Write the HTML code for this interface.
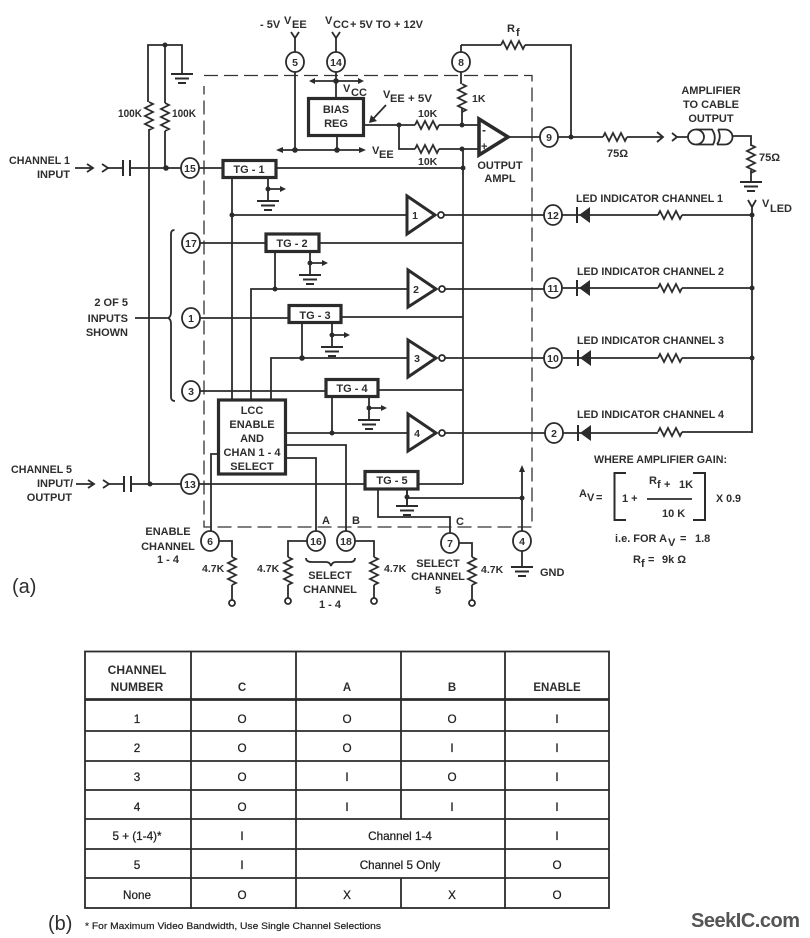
<!DOCTYPE html>
<html><head><meta charset="utf-8"><style>
html,body{margin:0;padding:0;background:#fff}
svg{display:block}
text{font-family:"Liberation Sans",sans-serif;font-weight:bold;font-size:11px;fill:#2e2e2e;stroke:none}
.c{text-anchor:middle}.r{text-anchor:end}
.s{font-size:10.5px}.n{font-size:10.5px;text-anchor:middle}
.m{font-size:11.7px;font-weight:normal;fill:#222;stroke:#222;stroke-width:.25px;text-anchor:middle}
.w{fill:#fff;stroke:#2b2b2b;stroke-width:1.8}
.l{fill:none;stroke:#2b2b2b;stroke-width:1.8}
.b{fill:#fff;stroke:#2b2b2b;stroke-width:3.2}
.k{fill:#2b2b2b;stroke:none}
</style></head><body>
<svg width="810" height="938" viewBox="0 0 810 938" xmlns="http://www.w3.org/2000/svg">
<defs>
<path id="rh" class="l" d="M0 0l2-4 4 8 4-8 4 8 4-8 4 8 2-4"/>
<path id="rv" class="l" d="M0 0l4 2-8 4 8 4-8 4 8 4-8 4 8 4-4 2"/>
<g id="gnd"><path class="l" style="stroke-width:2" d="M-11 0h22M-7 4.500h14M-4 9h8"/></g>
<g id="tgg"><path class="l" d="M0 0V23M0 11H13"/><circle class="k" cx="0" cy="11" r="2.500"/><path class="k" d="M12 8l6 3-6 3z"/><use href="#gnd" y="23"/></g>
</defs>

<!-- dashed package -->
<path fill="none" stroke="#333" stroke-width="1.3" stroke-dasharray="14 6" d="M204 75.500H532V527H204V86"/>

<!-- wires -->
<path class="l" d="
M148 102V45H182V74M165 45V103M165 131V168M149 129V484
M108 168H123M130 168H181M199 168H222M276 168H463
M232 178V400M232 215H406
M199 243H265M319 243H463M275 252V289M251 400V289H407
M199 318H288M341 317H463M302 323V358M271 400V358H407
M199 391H325M378 390H463M332 397V433M286 433H407
M199 484H364M418 484H463M108 484H124M131 484H181
M463 149V484
M295 38V52M295 72V150M336 38V52M336 72V98M337 136V150
M279 150H362M313 81H360
M364 125H415M439 125H479M399 125V149H415M439 149H479
M461 45V52M461 72V84M462 108V125
M461 45H501M525 45H571V137M510 137H540M558 137H603M627 137H662
M677 137H688M733 136H751V146M751 170V182
M752 207V433
M444 215H544M562 215H658M682 215H752
M445 289H544M562 288H658M682 288H752
M445 358H544M563 358H658M682 358H752
M445 433H545M563 433H658M682 432H752
M218 454H211V532M286 445H346V531M286 458H316V531
M378 490V517H450V533M407 490V506M407 498H522M522 470V531M522 551V567
M219 541H232V557M232 585V600M307 541H288V557M288 585V598M355 541H374V557M374 585V598M459 543H472V557M472 585V600
M135 318H167
"/>
<path class="l" style="stroke-width:1.8" d="M174.500 230Q171 230 171 234V312Q171 317 168 318Q171 319 171 324V397Q171 401 175 401"/>
<path class="l" d="M306 558Q306 562 312 562H326Q330 562 331 566Q332 562 336 562H350Q355 562 355 558"/>

<!-- arrows and forks -->
<path class="l" d="M75 168H92M87 164l6 4-6 4M102 164l6 4-6 4M76 484H93M88 480l6 4-6 4M103 480l6 4-6 4
M291 32l4 6 4-6M332 32l4 6 4-6M657 132l6 5-6 5M672 133l5 4-5 4M748 200l4 7 4-7"/>
<path class="k" d="M276 150l7-3v6zM366 150l-7-3v6zM309 81l6-3v6zM364 81l-6-3v6zM522 465l-3 7h6zM369 123l2-8 6 6z"/>
<path class="l" d="M386 105L372 120"/>

<!-- caps -->
<path class="l" style="stroke-width:2" d="M123 160V176M130 160V176M124 476V492M131 476V492"/>

<!-- resistors -->
<use href="#rv" x="149" y="102"/><use href="#rv" x="165" y="103"/>
<use href="#rh" x="415" y="125"/><use href="#rh" x="415" y="149"/>
<use href="#rv" x="462" y="84"/><use href="#rh" x="501" y="45"/>
<use href="#rh" x="603" y="137"/><use href="#rv" x="751" y="145"/>
<use href="#rh" x="658" y="215"/><use href="#rh" x="658" y="288"/><use href="#rh" x="658" y="358"/><use href="#rh" x="658" y="432"/>
<use href="#rv" x="232" y="557"/><use href="#rv" x="288" y="557"/><use href="#rv" x="374" y="557"/><use href="#rv" x="472" y="557"/>

<!-- grounds -->
<use href="#gnd" x="182" y="74"/><use href="#gnd" x="751" y="182"/><use href="#gnd" x="522" y="567"/>
<use href="#tgg" x="268" y="178"/><use href="#tgg" x="310" y="252"/><use href="#tgg" x="332" y="324"/><use href="#tgg" x="369" y="397"/>
<path class="l" d="M407 490V506"/><use href="#gnd" x="407" y="506"/>

<!-- nodes -->
<g class="k">
<circle cx="165" cy="45" r="2.500"/><circle cx="166" cy="168" r="2.800"/><circle cx="150" cy="484" r="2.500"/>
<circle cx="232" cy="215" r="2.500"/><circle cx="275" cy="289" r="2.500"/><circle cx="302" cy="358" r="2.800"/><circle cx="332" cy="433" r="2.500"/>
<circle cx="295" cy="150" r="2.800"/><circle cx="337" cy="150" r="2.800"/><circle cx="336" cy="81" r="2.800"/>
<circle cx="399" cy="125" r="2.500"/><circle cx="462" cy="125" r="2.500"/><circle cx="462" cy="149" r="2.500"/><circle cx="463" cy="168" r="2.500"/>
<circle cx="571" cy="137" r="2.500"/><circle cx="752" cy="215" r="2.500"/><circle cx="752" cy="288" r="2.500"/><circle cx="752" cy="358" r="2.500"/>
<circle cx="407" cy="497" r="2.500"/><circle cx="522" cy="498" r="2.500"/>
</g>

<!-- TG boxes -->
<rect class="b" x="223" y="160.500" width="53" height="17"/>
<rect class="b" x="266" y="234" width="53" height="17.500"/>
<rect class="b" x="289" y="305.500" width="52" height="17"/>
<rect class="b" x="326" y="379.500" width="52" height="17"/>
<rect class="b" x="365" y="471.500" width="53" height="17.500"/>
<rect class="b" x="308.500" y="98.500" width="55" height="37"/>
<rect class="b" x="218.500" y="400" width="67" height="74"/>
<text class="c" x="249" y="173">TG - 1</text><text class="c" x="292" y="247">TG - 2</text>
<text class="c" x="315" y="319">TG - 3</text><text class="c" x="352" y="392">TG - 4</text><text class="c" x="392" y="484">TG - 5</text>
<text class="c" x="336" y="113">BIAS</text><text class="c" x="336" y="127">REG</text>
<text class="c" x="252" y="414">LCC</text><text class="c" x="252" y="428">ENABLE</text><text class="c" x="252" y="442">AND</text><text class="c" x="252" y="456" textLength="57" lengthAdjust="spacingAndGlyphs">CHAN 1 - 4</text><text class="c" x="252" y="470">SELECT</text>

<!-- op amp & inverters -->
<path fill="#fff" stroke="#2b2b2b" stroke-width="3.6" stroke-linejoin="miter" d="M479 119V155L508 137Z"/>
<text x="482" y="134" style="font-size:12px">-</text><text x="481" y="150" style="font-size:11px">+</text>
<g fill="#fff" stroke="#2b2b2b" stroke-width="3">
<path d="M407 196V234L435 215Z"/><path d="M408 270V307L436 289Z"/><path d="M408 340V377L436 358Z"/><path d="M408 414V451L436 433Z"/>
</g>
<g class="w"><circle cx="441" cy="215" r="3"/><circle cx="442" cy="289" r="3"/><circle cx="442" cy="358" r="3"/><circle cx="442" cy="433" r="3"/></g>
<text class="n" x="415" y="219">1</text><text class="n" x="416" y="293">2</text><text class="n" x="417" y="362">3</text><text class="n" x="417" y="437">4</text>

<!-- diodes -->
<g class="k"><path d="M590 207V223L579 215Z"/><path d="M590 280V296L579 288Z"/><path d="M591 350V366L580 358Z"/><path d="M591 425V441L580 433Z"/></g>
<path class="l" style="stroke-width:2" d="M577 207V223M577 280V296M578 350V366M578 425V441"/>

<!-- cable -->
<path class="l" d="M696 129.500H712Q717 137 713 144.500H696M718 129.500Q722 137 717 144.500M718 129.500H725A7.500 7.500 0 0 1 725 144.500H717"/>
<ellipse class="l" cx="696" cy="137" rx="8" ry="7.500"/>

<!-- pins -->
<g class="w">
<ellipse cx="295" cy="62" rx="9" ry="10"/><ellipse cx="336" cy="62" rx="9" ry="10"/><ellipse cx="461" cy="62" rx="9" ry="10"/>
<ellipse cx="190" cy="168" rx="9" ry="10"/><ellipse cx="191" cy="243" rx="9" ry="10"/><ellipse cx="191" cy="318" rx="9" ry="10"/><ellipse cx="191" cy="391" rx="9" ry="10"/><ellipse cx="190" cy="484" rx="9" ry="10"/>
<ellipse cx="549" cy="137" rx="9" ry="10"/><ellipse cx="553" cy="215" rx="9" ry="10"/><ellipse cx="553" cy="288" rx="9" ry="10"/><ellipse cx="553" cy="358" rx="9" ry="10"/><ellipse cx="554" cy="433" rx="9" ry="10"/>
<ellipse cx="210" cy="541" rx="9" ry="10"/><ellipse cx="316" cy="541" rx="9" ry="10"/><ellipse cx="346" cy="541" rx="9" ry="10"/><ellipse cx="450" cy="543" rx="9" ry="10"/><ellipse cx="522" cy="541" rx="9" ry="10"/>
<circle cx="232" cy="603" r="3"/><circle cx="288" cy="601" r="3"/><circle cx="374" cy="601" r="3"/><circle cx="472" cy="603" r="3"/>
</g>
<g>
<text class="n" x="295" y="66">5</text><text class="n" x="336" y="66">14</text><text class="n" x="461" y="66">8</text>
<text class="n" x="190" y="172">15</text><text class="n" x="191" y="247">17</text><text class="n" x="191" y="322">1</text><text class="n" x="191" y="395">3</text><text class="n" x="190" y="488">13</text>
<text class="n" x="549" y="141">9</text><text class="n" x="553" y="219">12</text><text class="n" x="553" y="292">11</text><text class="n" x="553" y="362">10</text><text class="n" x="554" y="437">2</text>
<text class="n" x="210" y="545">6</text><text class="n" x="316" y="545">16</text><text class="n" x="346" y="545">18</text><text class="n" x="450" y="547">7</text><text class="n" x="522" y="545">4</text>
</g>

<!-- labels -->
<text x="260" y="28">- 5V</text><text x="284" y="24">V</text><text x="292" y="28">EE</text>
<text x="325" y="24">V</text><text x="333" y="28">CC</text><text x="350" y="28" textLength="73" lengthAdjust="spacingAndGlyphs">+ 5V TO + 12V</text>
<text x="507" y="32">R</text><text x="516" y="36">f</text>
<text x="118" y="117" textLength="24" lengthAdjust="spacingAndGlyphs">100K</text><text x="172" y="117" textLength="24" lengthAdjust="spacingAndGlyphs">100K</text>
<text x="343" y="92">V</text><text x="351" y="96">CC</text><text x="372" y="154">V</text><text x="379" y="158">EE</text>
<text x="383" y="98">V</text><text x="390" y="102">EE</text><text x="408" y="102" textLength="24" lengthAdjust="spacingAndGlyphs">+ 5V</text>
<text x="418" y="117" class="s">10K</text><text x="418" y="165" class="s">10K</text><text x="472" y="102" class="s">1K</text>
<text class="c" x="500" y="169">OUTPUT</text><text class="c" x="500" y="182">AMPL</text>
<text class="c" x="711" y="94">AMPLIFIER</text><text class="c" x="711" y="108">TO CABLE</text><text class="c" x="711" y="122">OUTPUT</text>
<text x="607" y="157">75Ω</text><text x="759" y="161">75Ω</text>
<text x="762" y="207">V</text><text x="770" y="212">LED</text>
<text class="r" x="70" y="164" textLength="61" lengthAdjust="spacingAndGlyphs">CHANNEL 1</text><text class="r" x="70" y="178">INPUT</text>
<text class="r" x="72" y="473" textLength="61" lengthAdjust="spacingAndGlyphs">CHANNEL 5</text><text class="r" x="73" y="487">INPUT/</text><text class="r" x="72" y="501">OUTPUT</text>
<text class="r" x="128" y="306">2 OF 5</text><text class="r" x="128" y="322">INPUTS</text><text class="r" x="128" y="336">SHOWN</text>
<text x="576" y="202" textLength="147" lengthAdjust="spacingAndGlyphs">LED INDICATOR CHANNEL 1</text>
<text x="577" y="275" textLength="147" lengthAdjust="spacingAndGlyphs">LED INDICATOR CHANNEL 2</text>
<text x="577" y="344" textLength="147" lengthAdjust="spacingAndGlyphs">LED INDICATOR CHANNEL 3</text>
<text x="577" y="418" textLength="147" lengthAdjust="spacingAndGlyphs">LED INDICATOR CHANNEL 4</text>
<text class="c" x="168" y="535">ENABLE</text><text class="c" x="168" y="550">CHANNEL</text><text class="c" x="168" y="563">1 - 4</text>
<text x="202" y="572" class="s">4.7K</text><text x="257" y="572" class="s">4.7K</text><text x="384" y="572" class="s">4.7K</text><text x="481" y="573" class="s">4.7K</text>
<text x="322" y="524">A</text><text x="352" y="524">B</text><text x="456" y="525">C</text>
<text class="c" x="330" y="579">SELECT</text><text class="c" x="330" y="593">CHANNEL</text><text class="c" x="330" y="608">1 - 4</text>
<text class="c" x="438" y="567">SELECT</text><text class="c" x="438" y="580">CHANNEL</text><text class="c" x="438" y="594">5</text>
<text x="540" y="576">GND</text>
<text x="12" y="593" style="font-size:20px;font-weight:normal">(a)</text>

<!-- formula -->
<text x="594" y="463" textLength="133" lengthAdjust="spacingAndGlyphs">WHERE AMPLIFIER GAIN:</text>
<text x="579" y="497">A</text><text x="587" y="501">V</text><text x="596" y="501">=</text>
<path class="l" style="stroke-width:2" d="M626 473H614.500V520H626M693 473H705V520H693"/>
<text x="622" y="502">1 +</text><path class="l" d="M647 499H692"/>
<text x="649" y="484">R</text><text x="657" y="488">f</text><text x="664" y="488">+</text><text x="679" y="488">1K</text>
<text x="662" y="517">10 K</text><text x="716" y="502" textLength="25" lengthAdjust="spacingAndGlyphs">X 0.9</text>
<text x="615" y="542" textLength="52" lengthAdjust="spacingAndGlyphs">i.e. FOR A</text><text x="668" y="546">V</text><text x="680" y="542">=</text><text x="695" y="542">1.8</text>
<text x="633" y="563">R</text><text x="641" y="567">f</text><text x="648" y="563">=</text><text x="662" y="563">9k Ω</text>

<!-- table -->
<rect x="85" y="651.500" width="524" height="256.500" fill="none" stroke="#2b2b2b" stroke-width="1.8"/>
<path class="l" d="M85 731H609M85 761H609M85 790H609M85 819H609M85 849H609M85 878H609M191 651V909M296 651V909M505 651V909M401 651V819M401 878V908"/>
<path class="l" style="stroke-width:2.800" d="M85 699.500H609"/>
<text class="c" x="137" y="674" style="font-size:12px">CHANNEL</text><text class="c" x="137" y="691" style="font-size:12px">NUMBER</text>
<text class="c" x="242" y="691" style="font-size:11.500px">C</text><text class="c" x="347" y="691" style="font-size:11.500px">A</text><text class="c" x="452" y="691" style="font-size:11.500px">B</text><text class="c" x="557" y="691" style="font-size:11.500px">ENABLE</text>
<g>
<text class="m" x="137" y="723">1</text><text class="m" x="242" y="723">O</text><text class="m" x="347" y="723">O</text><text class="m" x="452" y="723">O</text><text class="m" x="557" y="723">I</text>
<text class="m" x="137" y="752">2</text><text class="m" x="242" y="752">O</text><text class="m" x="347" y="752">O</text><text class="m" x="452" y="752">I</text><text class="m" x="557" y="752">I</text>
<text class="m" x="137" y="781">3</text><text class="m" x="242" y="781">O</text><text class="m" x="347" y="781">I</text><text class="m" x="452" y="781">O</text><text class="m" x="557" y="781">I</text>
<text class="m" x="137" y="811">4</text><text class="m" x="242" y="811">O</text><text class="m" x="347" y="811">I</text><text class="m" x="452" y="811">I</text><text class="m" x="557" y="811">I</text>
<text class="m" x="137" y="840">5 + (1-4)*</text><text class="m" x="242" y="840">I</text><text class="m" x="400" y="840">Channel 1-4</text><text class="m" x="557" y="840">I</text>
<text class="m" x="137" y="869">5</text><text class="m" x="242" y="869">I</text><text class="m" x="400" y="869">Channel 5 Only</text><text class="m" x="557" y="869">O</text>
<text class="m" x="137" y="899">None</text><text class="m" x="242" y="899">O</text><text class="m" x="347" y="899">X</text><text class="m" x="452" y="899">X</text><text class="m" x="557" y="899">O</text>
</g>
<text x="48" y="930" style="font-size:20px;font-weight:normal">(b)</text>
<text x="85" y="929" style="font-size:9.500px;font-weight:normal;fill:#222;stroke:#222;stroke-width:.2px" textLength="296" lengthAdjust="spacingAndGlyphs">* For Maximum Video Bandwidth, Use Single Channel Selections</text>
<text x="691" y="927" style="font-size:20px;fill:#555" textLength="109" lengthAdjust="spacing">SeekIC.com</text>
</svg>
</body></html>
